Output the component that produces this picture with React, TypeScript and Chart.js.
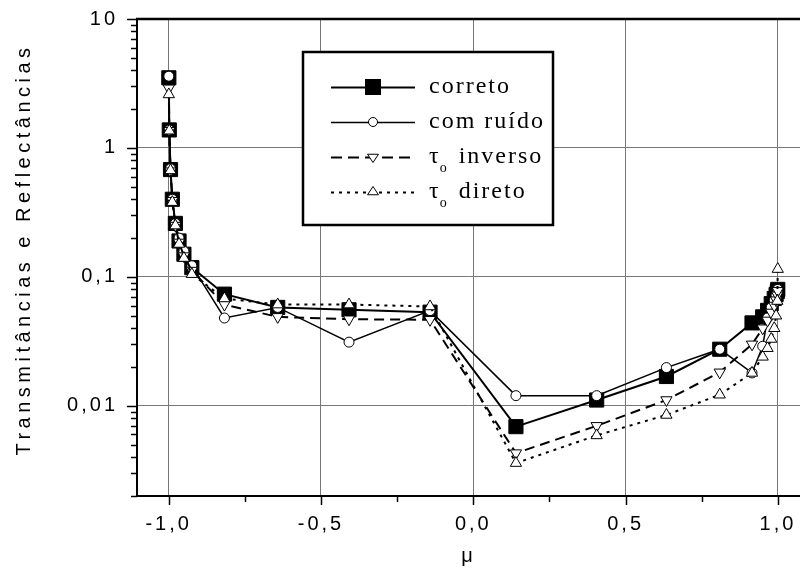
import React, { useEffect, useRef } from "react";
import { Chart, registerables } from "chart.js";
Chart.register(...registerables);

const muValues = [
  -0.9995, -0.998, -0.994, -0.988, -0.978, -0.966, -0.95, -0.924, -0.817, -0.642, -0.408, -0.142,
  0.14, 0.405, 0.634, 0.809, 0.915, 0.95, 0.966, 0.978, 0.988, 0.994, 0.998, 0.9995,
];
const corretoValues = [
  3.5, 1.38, 0.68, 0.4, 0.26, 0.19, 0.15, 0.118, 0.0735, 0.058, 0.0556, 0.0533,
  0.0069, 0.0111, 0.0169, 0.0275, 0.044, 0.049, 0.055, 0.062, 0.068, 0.073, 0.077, 0.08,
];
const ruidoValues = [
  3.6, 1.38, 0.69, 0.4, 0.26, 0.2, 0.158, 0.122, 0.048, 0.058, 0.0312, 0.0548,
  0.012, 0.012, 0.0198, 0.0275, 0.018, 0.029, 0.048, 0.058, 0.066, 0.072, 0.077, 0.08,
];
const inversoValues = [
  2.9, 1.36, 0.66, 0.39, 0.25, 0.185, 0.145, 0.112, 0.061, 0.049, 0.047, 0.0465,
  0.0043, 0.007, 0.0111, 0.0182, 0.03, 0.04, 0.046, 0.053, 0.06, 0.066, 0.072, 0.078,
];
const diretoValues = [
  2.6, 1.36, 0.67, 0.38, 0.25, 0.18, 0.14, 0.105, 0.068, 0.061, 0.061, 0.059,
  0.0036, 0.0059, 0.0085, 0.0122, 0.018, 0.024, 0.028, 0.033, 0.04, 0.05, 0.065, 0.115,
];

const seriesNames = ["correto", "com ruído", "inverso", "direto"];
const xTickValues = [-1, -0.5, 0, 0.5, 1];
const xTickLabels = ["-1,0", "-0,5", "0,0", "0,5", "1,0"];
const xMinorValues = [-0.75, -0.25, 0.25, 0.75];
const yTickValues = [0.01, 0.1, 1, 10];
const yTickLabels = ["0,01", "0,1", "1", "10"];
const yTitle = "Transmitâncias e Reflectâncias";
const xTitle = "μ";

const AXIS_FONT = "Liberation Sans";
const AXIS_SIZE = 20;
const LEGEND_FONT = "Liberation Serif";

function toPoints(vals: number[]) {
  return muValues.map((m, i) => ({ x: m, y: vals[i] }));
}

function legendMarker(ctx: CanvasRenderingContext2D, kind: string, x: number, y: number) {
  ctx.save();
  ctx.setLineDash([]);
  ctx.lineWidth = 1;
  ctx.strokeStyle = "#000";
  if (kind === "rect") {
    ctx.fillStyle = "#000";
    ctx.fillRect(x - 8, y - 8, 16, 16);
  } else if (kind === "circle") {
    ctx.fillStyle = "#fff";
    ctx.beginPath();
    ctx.arc(x, y, 4.5, 0, Math.PI * 2);
    ctx.fill();
    ctx.stroke();
  } else {
    const r = 5.5;
    const dir = kind === "down" ? -1 : 1;
    ctx.fillStyle = "#fff";
    ctx.beginPath();
    ctx.moveTo(x, y - dir * r);
    ctx.lineTo(x + r * 0.866 * 1.15, y + dir * r * 0.5);
    ctx.lineTo(x - r * 0.866 * 1.15, y + dir * r * 0.5);
    ctx.closePath();
    ctx.fill();
    ctx.stroke();
  }
  ctx.restore();
}

const framePlugin = {
  id: "frame",
  beforeDraw(chart: any) {
    chart.ctx.letterSpacing = "3px";
  },
  afterDatasetsDraw(chart: any) {
    const ctx: CanvasRenderingContext2D = chart.ctx;
    const a = chart.chartArea;
    const xs = chart.scales.x;
    const ys = chart.scales.y;
    ctx.save();
    ctx.letterSpacing = "0px";
    ctx.strokeStyle = "#000";
    ctx.setLineDash([]);
    ctx.lineWidth = 2;
    ctx.beginPath();
    ctx.moveTo(a.left, a.top);
    ctx.lineTo(a.left, a.bottom + 1);
    ctx.stroke();
    ctx.beginPath();
    ctx.moveTo(a.left - 1, a.bottom);
    ctx.lineTo(a.right, a.bottom);
    ctx.stroke();
    ctx.lineWidth = 2.5;
    ctx.beginPath();
    ctx.moveTo(a.left - 1, a.top);
    ctx.lineTo(a.right, a.top);
    ctx.stroke();
    // ticks
    ctx.lineWidth = 1.5;
    for (const v of xTickValues) {
      const px = Math.round(xs.getPixelForValue(v)) + 0.5;
      ctx.beginPath();
      ctx.moveTo(px, a.bottom);
      ctx.lineTo(px, a.bottom + 9);
      ctx.stroke();
    }
    for (const v of xMinorValues) {
      const px = Math.round(xs.getPixelForValue(v)) + 0.5;
      ctx.beginPath();
      ctx.moveTo(px, a.bottom);
      ctx.lineTo(px, a.bottom + 6);
      ctx.stroke();
    }
    for (const v of yTickValues) {
      const py = Math.round(ys.getPixelForValue(v)) + 0.5;
      ctx.beginPath();
      ctx.moveTo(a.left - 10, py);
      ctx.lineTo(a.left, py);
      ctx.stroke();
    }
    for (const d of [0.001, 0.01, 0.1, 1]) {
      for (let m = 2; m <= 9; m++) {
        const v = d * m;
        if (v < ys.min || v > ys.max) continue;
        const py = Math.round(ys.getPixelForValue(v)) + 0.5;
        ctx.beginPath();
        ctx.moveTo(a.left - 6, py);
        ctx.lineTo(a.left, py);
        ctx.stroke();
      }
    }
    // y title
    ctx.save();
    ctx.letterSpacing = "4.5px";
    ctx.font = `${AXIS_SIZE}px "${AXIS_FONT}"`;
    ctx.fillStyle = "#000";
    ctx.translate(24, (a.top + a.bottom) / 2 - 8);
    ctx.rotate(-Math.PI / 2);
    ctx.textAlign = "center";
    ctx.textBaseline = "middle";
    ctx.fillText(yTitle, 0, 0);
    ctx.restore();

    // legend
    const bx = 303, by = 52, bw = 250, bh = 173;
    ctx.fillStyle = "#fff";
    ctx.fillRect(bx, by, bw, bh);
    ctx.lineWidth = 2.5;
    ctx.strokeRect(bx, by, bw, bh);
    const rows = [
      { name: seriesNames[0], dash: [] as number[], w: 2, mk: "rect", tau: false },
      { name: seriesNames[1], dash: [] as number[], w: 1.5, mk: "circle", tau: false },
      { name: seriesNames[2], dash: [11, 6], w: 2, mk: "down", tau: true },
      { name: seriesNames[3], dash: [3, 5], w: 2, mk: "up", tau: true },
    ];
    rows.forEach((r, i) => {
      const y = 87 + i * 35;
      ctx.save();
      ctx.lineWidth = r.w;
      ctx.setLineDash(r.dash);
      ctx.beginPath();
      ctx.moveTo(331, y + 0.5);
      ctx.lineTo(415, y + 0.5);
      ctx.stroke();
      ctx.restore();
      legendMarker(ctx, r.mk, 373, y);
      ctx.save();
      ctx.fillStyle = "#000";
      ctx.textBaseline = "middle";
      ctx.textAlign = "left";
      ctx.letterSpacing = "2px";
      ctx.font = `24px "${LEGEND_FONT}"`;
      let tx = 429;
      if (r.tau) {
        ctx.fillText("τ", tx, y);
        tx += ctx.measureText("τ").width - 1;
        ctx.font = `14px "${LEGEND_FONT}"`;
        ctx.fillText("o", tx, y + 11);
        tx += ctx.measureText("o").width + 10;
        ctx.font = `24px "${LEGEND_FONT}"`;
      }
      ctx.fillText(r.name, tx, y);
      ctx.restore();
    });
    ctx.restore();
  },
};

export default function App() {
  const ref = useRef<HTMLCanvasElement | null>(null);
  useEffect(() => {
    if (!ref.current) return;
    const axisFont = { family: AXIS_FONT, size: AXIS_SIZE };
    const chart = new Chart(ref.current, {
      type: "line",
      data: {
        datasets: [
          {
            label: seriesNames[0],
            data: toPoints(corretoValues),
            borderColor: "#000",
            borderWidth: 2,
            pointStyle: "rect",
            pointRadius: 10,
            pointBackgroundColor: "#000",
            pointBorderColor: "#000",
            pointBorderWidth: 1,
            tension: 0,
            order: 4,
          },
          {
            label: seriesNames[1],
            data: toPoints(ruidoValues),
            borderColor: "#000",
            borderWidth: 1.5,
            pointStyle: "circle",
            pointRadius: 5,
            pointBackgroundColor: "#fff",
            pointBorderColor: "#000",
            pointBorderWidth: 1,
            tension: 0,
            order: 3,
          },
          {
            label: seriesNames[2],
            data: toPoints(inversoValues),
            borderColor: "#000",
            borderWidth: 2,
            borderDash: [10, 6],
            pointStyle: "triangle",
            pointRotation: 180,
            pointRadius: 6.5,
            pointBackgroundColor: "#fff",
            pointBorderColor: "#000",
            pointBorderWidth: 1,
            tension: 0,
            order: 2,
          },
          {
            label: seriesNames[3],
            data: toPoints(diretoValues),
            borderColor: "#000",
            borderWidth: 2,
            borderDash: [3, 5],
            pointStyle: "triangle",
            pointRadius: 6.5,
            pointBackgroundColor: "#fff",
            pointBorderColor: "#000",
            pointBorderWidth: 1,
            tension: 0,
            order: 1,
          },
        ],
      },
      options: {
        animation: false,
        responsive: false,
        devicePixelRatio: 1,
        layout: { autoPadding: false, padding: { top: 19, left: 0, right: 0, bottom: 0 } },
        plugins: { legend: { display: false }, tooltip: { enabled: false } },
        scales: {
          x: {
            type: "linear",
            min: -1.104,
            max: 1.0725,
            afterBuildTicks: (s: any) => {
              s.ticks = xTickValues.map((v) => ({ value: v }));
            },
            afterFit: (s: any) => {
              s.height = 80;
              s.paddingLeft = 0;
              s.paddingRight = 0;
            },
            ticks: {
              autoSkip: false,
              maxRotation: 0,
              font: axisFont,
              color: "#000",
              padding: 16,
              callback: (v: any) => xTickLabels[xTickValues.indexOf(Number(v))] ?? "",
            },
            grid: { color: "#777", lineWidth: 1, drawTicks: false },
            border: { display: false },
            title: {
              display: true,
              text: xTitle,
              font: axisFont,
              color: "#000",
              padding: { top: 0, bottom: 8 },
            },
          },
          y: {
            type: "logarithmic",
            min: 0.002,
            max: 10,
            afterBuildTicks: (s: any) => {
              s.ticks = yTickValues.map((v) => ({ value: v }));
            },
            afterFit: (s: any) => {
              s.width = 137;
              s.paddingTop = 0;
              s.paddingBottom = 0;
            },
            ticks: {
              autoSkip: false,
              font: axisFont,
              color: "#000",
              padding: 19,
              callback: (v: any) => yTickLabels[yTickValues.indexOf(Number(v))] ?? "",
            },
            grid: { color: "#777", lineWidth: 1, drawTicks: false },
            border: { display: false },
            title: { display: false },
          },
        },
      },
      plugins: [framePlugin],
    } as any);
    return () => chart.destroy();
  }, []);
  return (
    <div style={{ position: "fixed", left: 0, top: 0, width: 800, height: 576, background: "#fff" }}>
      <canvas ref={ref} width={800} height={576} style={{ width: 800, height: 576, display: "block" }} />
    </div>
  );
}
